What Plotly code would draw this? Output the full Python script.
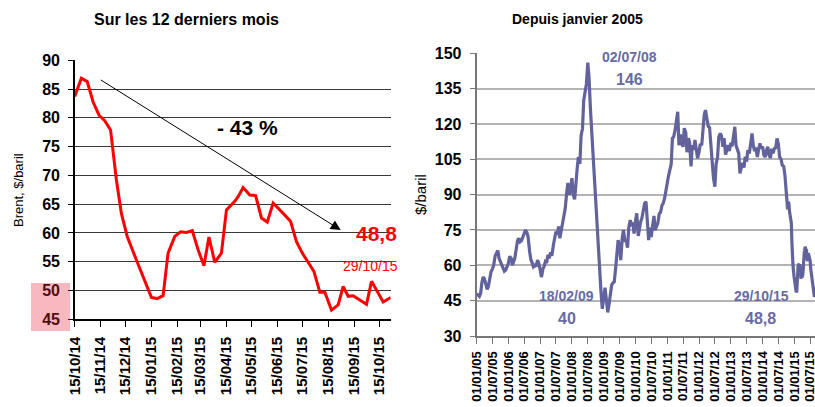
import pandas as pd
import plotly.graph_objects as go

W, H = 815, 407
FONT = "Liberation Sans, Arial, sans-serif"
RED = "#ff0000"
SLATE = "#62629c"
SLATE_TXT = "#6a6aa3"


def px(x):
    return x / W


def py(y):
    return 1 - y / H


# ---------------- Data: last 12 months (weekly Brent, $/baril) ----------------
recent_dates = [
    "2014-10-15", "2014-10-23", "2014-10-30", "2014-11-06", "2014-11-13", "2014-11-20",
    "2014-11-27", "2014-12-04", "2014-12-10", "2014-12-17", "2014-12-28", "2015-01-07",
    "2015-01-15", "2015-01-22", "2015-01-29", "2015-02-04", "2015-02-12", "2015-02-19",
    "2015-02-26", "2015-03-05", "2015-03-12", "2015-03-19", "2015-03-25", "2015-04-01",
    "2015-04-09", "2015-04-15", "2015-04-25", "2015-04-29", "2015-05-05", "2015-05-13",
    "2015-05-20", "2015-05-27", "2015-06-03", "2015-06-10", "2015-06-17", "2015-06-24",
    "2015-07-01", "2015-07-08", "2015-07-15", "2015-07-22", "2015-07-29", "2015-08-05",
    "2015-08-11", "2015-08-19", "2015-08-27", "2015-09-02", "2015-09-08", "2015-09-14",
    "2015-09-22", "2015-09-30", "2015-10-06", "2015-10-14", "2015-10-20", "2015-10-29",
]
recent_brent = [
    83.7, 86.9, 86.3, 82.8, 80.5, 79.5,
    77.9, 69.2, 63.4, 59.4, 55.3, 51.6,
    48.8, 48.6, 49.1, 56.5, 59.4, 60.2,
    60.1, 60.4, 57.1, 54.3, 59.3, 54.9,
    56.5, 64.0, 65.5, 66.3, 67.9, 66.6,
    66.5, 62.6, 61.9, 65.2, 64.2, 63.1,
    62.0, 58.5, 56.5, 54.9, 53.3, 49.7,
    49.7, 46.6, 47.5, 50.7, 49.0, 49.1,
    48.3, 47.6, 51.6, 49.5, 48.0, 48.8,
]
recent_ticks = ["2014-10-15", "2014-11-15", "2014-12-15", "2015-01-15", "2015-02-15",
                "2015-03-15", "2015-04-15", "2015-05-15", "2015-06-15", "2015-07-15",
                "2015-08-15", "2015-09-15", "2015-10-15"]
recent_tick_labels = ["15/10/14", "15/11/14", "15/12/14", "15/01/15", "15/02/15",
                      "15/03/15", "15/04/15", "15/05/15", "15/06/15", "15/07/15",
                      "15/08/15", "15/09/15", "15/10/15"]
recent_y_ticks = [45, 50, 55, 60, 65, 70, 75, 80, 85, 90]

# ---------------- Data: since January 2005 (1st & 15th of each month) ----------------
brent_2005 = [47.0, 47.5, 46.8, 48.0, 52.5, 55.0, 54.2, 51.5, 49.8, 51.0, 54.5, 57.3,
              58.5, 60.0, 64.0, 65.5, 66.3, 63.0, 61.5, 60.0, 59.0, 57.5, 58.0, 59.5]
brent_2006 = [61.0, 63.8, 63.0, 60.0, 62.0, 63.0, 67.0, 70.5, 71.5, 70.0, 70.5, 71.9,
              74.0, 75.0, 74.0, 72.0, 66.0, 62.5, 61.0, 59.4, 60.0, 59.5, 62.2, 61.0]
brent_2007 = [58.0, 55.0, 58.5, 59.5, 61.5, 61.0, 64.5, 63.0, 65.5, 64.0, 68.5, 72.0,
              74.3, 73.0, 76.5, 71.5, 75.0, 78.5, 80.5, 84.0, 90.5, 95.0, 90.0, 92.0]
brent_2008 = [97.0, 90.0, 88.0, 96.5, 101.0, 106.0, 103.0, 115.0, 118.0, 130.0, 134.0, 137.0,
              146.0, 140.0, 126.0, 116.7, 108.0, 96.0, 90.0, 76.0, 64.0, 56.0, 48.0, 41.5]
brent_2009 = [45.5, 50.5, 45.0, 40.0, 43.0, 46.5, 51.5, 52.5, 53.0, 58.0, 67.0, 70.7,
              68.0, 62.2, 71.5, 75.0, 70.0, 70.7, 67.5, 76.0, 79.2, 77.5, 78.0, 73.5]
brent_2010 = [79.0, 82.1, 72.5, 76.4, 78.5, 80.0, 84.0, 86.3, 87.0, 77.0, 70.7, 76.0,
              72.0, 76.5, 81.0, 75.0, 76.5, 78.0, 82.0, 82.5, 85.5, 86.3, 88.5, 92.5]
brent_2011 = [95.0, 98.0, 101.9, 103.0, 114.0, 114.5, 117.5, 122.5, 125.2, 111.0, 115.5, 112.0,
              110.3, 118.2, 116.5, 108.0, 114.0, 112.0, 102.0, 111.0, 109.0, 113.2, 110.0, 105.4]
brent_2012 = [108.0, 111.5, 111.0, 118.0, 124.0, 125.9, 122.5, 119.0, 118.5, 110.5, 101.9, 97.0,
              93.4, 103.0, 106.0, 114.5, 116.0, 115.0, 110.3, 114.0, 107.0, 108.9, 111.0, 108.5]
brent_2013 = [112.0, 110.5, 116.0, 118.8, 111.0, 109.0, 107.5, 99.0, 102.0, 103.5, 101.5, 106.1,
              104.0, 108.9, 107.5, 111.0, 116.0, 111.0, 108.5, 110.0, 106.0, 108.9, 111.8, 109.5]
brent_2014 = [110.5, 106.8, 106.0, 109.0, 110.3, 107.0, 105.5, 109.5, 107.5, 109.5, 110.0, 113.9,
              111.5, 106.0, 105.0, 102.5, 101.9, 98.0, 92.0]

hist_brent = (brent_2005 + brent_2006 + brent_2007 + brent_2008 + brent_2009 + brent_2010
              + brent_2011 + brent_2012 + brent_2013 + brent_2014)
hist_dates = list(pd.date_range("2005-01-01", "2014-10-01", freq="SMS").strftime("%Y-%m-%d"))

long_dates = hist_dates + recent_dates
long_brent = hist_brent + recent_brent

long_ticks = [f"20{yy:02d}-{mm:02d}-01" for yy in range(5, 16) for mm in (1, 7)]
long_tick_labels = [f"01/{mm:02d}/{yy:02d}" for yy in range(5, 16) for mm in (1, 7)]
long_y_ticks = [30, 45, 60, 75, 90, 105, 120, 135, 150]


def b(labels):
    return [f"<b>{s}</b>" for s in labels]


# ---------------- Figure ----------------
fig = go.Figure()
fig.add_trace(go.Scatter(x=recent_dates, y=recent_brent, mode="lines",
                         line=dict(color=RED, width=3), xaxis="x", yaxis="y",
                         showlegend=False, hoverinfo="skip"))
fig.add_trace(go.Scatter(x=long_dates, y=long_brent, mode="lines",
                         line=dict(color=SLATE, width=3.2), xaxis="x2", yaxis="y2",
                         showlegend=False, hoverinfo="skip"))

tf = dict(family=FONT, color="black")

fig.update_layout(
    width=W, height=H,
    margin=dict(l=0, r=0, t=0, b=0),
    paper_bgcolor="white", plot_bgcolor="white",
    font=dict(family=FONT, color="black"),
    xaxis=dict(
        domain=[px(74.7), px(390.7)], anchor="y", type="date",
        range=["2014-10-15", "2015-10-29"],
        tickvals=recent_ticks, ticktext=b(recent_tick_labels),
        tickangle=-90, tickfont=dict(size=15, **tf),
        showgrid=False, showline=True, linecolor="black", linewidth=1.5,
        ticks="outside", ticklen=6, tickcolor="black", ticklabelstandoff=4,
        zeroline=False, automargin=False, ticklabeloverflow="allow",
    ),
    yaxis=dict(
        domain=[py(319.3), py(60.3)], anchor="x", range=[45, 90],
        tickvals=recent_y_ticks, ticktext=b([str(v) for v in recent_y_ticks]),
        tickfont=dict(size=16, **tf), showgrid=True, gridcolor="#383838", gridwidth=1,
        showline=True, linecolor="black", linewidth=1.5, ticks="outside", ticklen=5,
        tickcolor="black", ticklabelstandoff=5, zeroline=False, automargin=False,
    ),
    xaxis2=dict(
        domain=[px(476.7), 1.0], anchor="y2", type="date",
        range=["2005-01-01", "2015-08-26"],
        tickvals=long_ticks, ticktext=b(long_tick_labels),
        tickangle=-90, tickfont=dict(size=13, **tf),
        showgrid=False, showline=True, linecolor="#777777", linewidth=2,
        ticks="outside", ticklen=6, tickcolor="#777777", ticklabelstandoff=2,
        zeroline=False, automargin=False, ticklabeloverflow="allow",
    ),
    yaxis2=dict(
        domain=[py(336), py(53.3)], anchor="x2", range=[30, 150],
        tickvals=long_y_ticks, ticktext=b([str(v) for v in long_y_ticks]),
        tickfont=dict(size=16, **tf), showgrid=True, gridcolor="#b3b3b3", gridwidth=2,
        showline=True, linecolor="#777777", linewidth=2, ticks="outside", ticklen=5,
        tickcolor="#777777", ticklabelstandoff=5, zeroline=False, automargin=False,
    ),
)

# White boxes hiding gridlines behind labels
boxes = [
    (206, 108, 289, 142),
    (333, 220, 410, 278),
    (597, 45, 659, 100),
    (536.7, 288, 596.7, 326),
    (731.7, 288, 790, 326),
]
for x0, y0, x1, y1 in boxes:
    fig.add_shape(type="rect", xref="paper", yref="paper", x0=px(x0), x1=px(x1),
                  y0=py(y1), y1=py(y0), fillcolor="white", line=dict(width=0),
                  layer="between")

# pink highlight on 45/50 labels
fig.add_shape(type="rect", xref="paper", yref="paper", x0=px(31), x1=px(70),
              y0=py(331), y1=py(283), fillcolor="rgba(235,40,60,0.33)",
              line=dict(width=0), layer="above")


def txt(x, y, s, size, color="black", weight="bold", angle=0):
    if weight == "bold":
        s = f"<b>{s}</b>"
    fig.add_annotation(x=px(x), y=py(y), xref="paper", yref="paper", text=s,
                       showarrow=False, textangle=angle,
                       font=dict(family=FONT, size=size, color=color),
                       xanchor="center", yanchor="middle")


txt(186, 19, "Sur les 12 derniers mois", 16)
txt(577, 19, "Depuis janvier 2005", 14)
txt(18, 190, "Brent, $/baril", 13, weight="normal", angle=-90)
txt(420, 195, "$/baril", 15, weight="normal", angle=-90)
txt(247, 128, "- 43 %", 21)
txt(376, 233.5, "48,8", 21, color=RED)
txt(370, 266, "29/10/15", 14, color=RED, weight="normal")
txt(629.7, 57.3, "02/07/08", 14, color=SLATE_TXT)
txt(629, 79, "146", 16, color=SLATE_TXT)
txt(566.7, 296, "18/02/09", 14, color=SLATE_TXT)
txt(566.7, 318.3, "40", 16, color=SLATE_TXT)
txt(761, 296, "29/10/15", 14, color=SLATE_TXT)
txt(760, 318.3, "48,8", 16, color=SLATE_TXT)

# trend arrow
fig.add_annotation(x=px(340.7), y=py(230), xref="paper", yref="paper",
                   ax=99.3 - 340.7, ay=79 - 230, axref="pixel", ayref="pixel",
                   text="", showarrow=True, arrowhead=2, arrowsize=2, arrowwidth=1,
                   arrowcolor="black", standoff=0, startstandoff=0)

fig.write_html(
    "out.html",
    config={"displayModeBar": False, "staticPlot": True},
    post_script="document.body.style.margin='0px';document.body.style.padding='0px';"
                "document.body.style.overflow='hidden';",
)
